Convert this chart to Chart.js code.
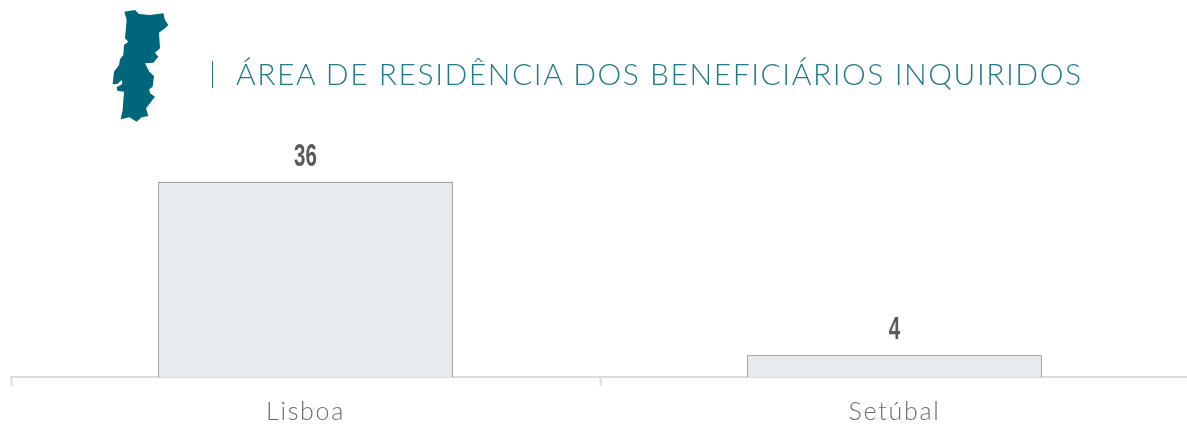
<!DOCTYPE html>
<html>
<head>
<meta charset="utf-8">
<script src="https://cdn.jsdelivr.net/npm/chart.js@4"></script>
<style>
  html, body { margin: 0; padding: 0; background: #fff; overflow: hidden; }
  #wrap { position: relative; width: 1187px; height: 425px; overflow: hidden; }
  #box { position: absolute; left: 0; top: -1px; width: 1189px; height: 439px; }
  #mapa { position: absolute; left: 90px; top: 0; width: 150px; height: 130px; }
  #barra { position: absolute; left: 212px; top: 61px; width: 1px; height: 27px; background: #1f7a8c; }
  #titulo { position: absolute; left: 236px; top: 54px; font: 300 30px/38px Lato, sans-serif; color: #1f7a8c; white-space: nowrap; letter-spacing: 1.55px; }
</style>
</head>
<body>
<div id="wrap">
  <div id="box"><canvas id="grafico"></canvas></div>
  <svg id="mapa" viewBox="0 0 450 390">
    <path fill="#00667c" d="M103 35L135 30L147 42L180 45L220 40L225 60L235 75L225 85L207 98L210 145L195 158L205 170L190 188L165 190L178 215L192 228L188 260L178 268L180 280L195 290L168 325L175 348L155 352L140 365L118 352L92 358L98 330L102 275L82 272L80 262L97 252L95 240L82 252L68 253L72 215L87 195L90 178L100 165L102 135L115 125L105 115L110 60Z"/>
  </svg>
  <div id="barra"></div>
  <div id="titulo">ÁREA DE RESIDÊNCIA DOS BENEFICIÁRIOS INQUIRIDOS</div>
</div>
<script>
const categorias = ["Lisboa", "Setúbal"];
const valores = [36, 4];

// numeros por cima das barras, estreitados porque nao ha fonte condensada
const rotulos = {
  id: "rotulos",
  beforeDraw(chart) {
    chart.ctx.letterSpacing = "1.7px";
  },
  afterDatasetsDraw(chart) {
    const ctx = chart.ctx;
    ctx.save();
    ctx.letterSpacing = "0px";
    ctx.fillStyle = "#58595b";
    ctx.font = "bold 32px 'Liberation Sans', sans-serif";
    ctx.textAlign = "center";
    ctx.textBaseline = "alphabetic";
    chart.getDatasetMeta(0).data.forEach((barra, i) => {
      ctx.save();
      ctx.translate(barra.x, barra.y - 16);
      ctx.scale(0.64, 1);
      ctx.fillText(valores[i], 0, 0);
      ctx.restore();
    });
    ctx.restore();
  }
};

new Chart(document.getElementById("grafico"), {
  type: "bar",
  data: {
    labels: categorias,
    datasets: [{
      data: valores,
      backgroundColor: "#e8ebee",
      borderColor: "#666666",
      borderWidth: 1,
      barPercentage: 0.5,
      categoryPercentage: 1
    }]
  },
  options: {
    responsive: true,
    maintainAspectRatio: false,
    animation: false,
    layout: { padding: { left: 11, right: 0, top: 134, bottom: 0 } },
    plugins: { legend: { display: false }, tooltip: { enabled: false } },
    scales: {
      y: { display: false, min: 0, max: 45 },
      x: {
        border: { color: "#dcdcdc", width: 2 },
        grid: { offset: true, drawOnChartArea: false, color: "#dcdcdc", tickLength: 9, tickWidth: 2 },
        ticks: { color: "#6d6e71", padding: 11, maxRotation: 0, font: { family: "Lato", size: 25, weight: 300 } }
      }
    }
  },
  plugins: [rotulos]
});
</script>
</body>
</html>
